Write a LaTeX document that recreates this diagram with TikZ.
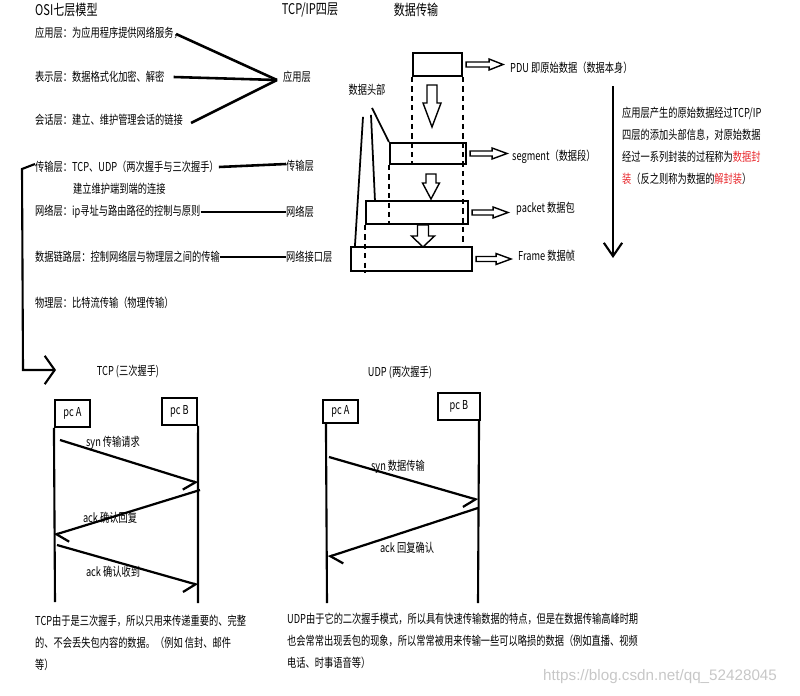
\documentclass[tikz,border=0pt]{standalone}
\usepackage{fontspec}
\setmainfont{Noto Sans CJK SC}[FakeStretch=0.75]
\newfontfamily\wmfont{Liberation Sans}
\usetikzlibrary{arrows.meta,calc}
\definecolor{encred}{RGB}{232,40,45}
\tikzset{
  txt/.style={inner sep=0pt, anchor=west, font=\fontsize{10.5}{12}\selectfont},
  para/.style={inner sep=0pt, anchor=north west, align=left, font=\fontsize{10.5}{18.6}\selectfont},
  head/.style={inner sep=0pt, font=\fontsize{12.6}{14}\selectfont},
  layerline/.style={line width=2.2pt},
  databox/.style={draw, line width=1.8pt, inner sep=0pt},
  pcbox/.style={draw, line width=1.8pt, inner sep=0pt, minimum width=1.05cm, minimum height=0.8cm, font=\fontsize{10.5}{12}\selectfont},
  life/.style={line width=1.8pt},
  msg/.style={line width=1.9pt, -{Straight Barb[harpoon, swap, length=3mm, width=6.5mm]}},
  msgback/.style={line width=1.9pt, -{Straight Barb[harpoon, length=3mm, width=6.5mm]}},
  bigarrow/.style={line width=1.8pt, -{Straight Barb[length=4mm, width=5.5mm]}},
  wideturn/.style={line width=1.8pt, -{Straight Barb[length=3mm, width=8.5mm]}},
  hdrline/.style={line width=1.5pt},
  datadash/.style={line width=1.8pt, dash pattern=on 4.5pt off 3.5pt}
}
\newcommand{\hollowarr}[6]{%
  \begin{scope}[shift={#1},rotate=#2]
    \draw[line width=1.2pt, fill=white] (0,-#5) -- ({#3-#4},-#5) -- ({#3-#4},-#6) -- (#3,0)
      -- ({#3-#4},#6) -- ({#3-#4},#5) -- (0,#5) -- cycle;
  \end{scope}}

\begin{document}
\begin{tikzpicture}[x=0.03cm,y=-0.03cm]
  \useasboundingbox (0,0) rectangle (800,696);

  \node[head, anchor=west] (osi) at (35,10) {OSI七层模型};
  \node[head] (tcpip) at (310,10) {TCP/IP四层};
  \node[head] (datatx) at (416,10) {数据传输};

  \node[txt] (app) at (35,33) {应用层：为应用程序提供网络服务，};
  \node[txt] (pres) at (35,77) {表示层：数据格式化加密、解密};
  \node[txt] (sess) at (35,120) {会话层：建立、维护管理会话的链接};
  \node[txt] (trans) at (35,167) {传输层：TCP、UDP（两次握手与三次握手）};
  \node[txt] (transnote) at (73,189) {建立维护端到端的连接};
  \node[txt] (net) at (35,212) {网络层：ip寻址与路由路径的控制与原则};
  \node[txt] (link) at (35,257) {数据链路层：控制网络层与物理层之间的传输};
  \node[txt] (phys) at (35,303) {物理层：比特流传输（物理传输）};

  \node[txt] (tapp) at (283,77) {应用层};
  \node[txt] (ttrans) at (286,166) {传输层};
  \node[txt] (tnet) at (286,212) {网络层};
  \node[txt] (tlink) at (286,257) {网络接口层};

  \coordinate (meet) at ($(tapp.west)+(-6,3)$);
  \draw[layerline] ($(app.east)+(-7,1)$) -- (meet);
  \draw[layerline] ($(pres.east)+(9,0)$) -- (meet);
  \draw[layerline] ($(sess.east)+(8,3)$) -- (meet);
  \draw[layerline] (trans.east) -- ($(ttrans.west)+(0,-2)$);
  \draw[layerline] (net.east) -- (tnet.west);
  \draw[layerline] (link.east) -- (tlink.west);

  \coordinate (tcpin) at (56,370);
  \draw[wideturn] ($(trans.west)+(0,-3)$) -- (22,169) -- (23,370) -- (tcpin);

  % encapsulation
  \node[databox, minimum width=1.47cm, minimum height=0.69cm] (pdu) at (437.5,64.5) {};
  \node[databox, minimum width=2.28cm, minimum height=0.63cm] (seg) at (428,153.5) {};
  \node[databox, minimum width=3.06cm, minimum height=0.69cm] (pkt) at (417,212.5) {};
  \node[databox, minimum width=3.63cm, minimum height=0.72cm] (frm) at (411.5,259) {};

  \draw[datadash] (pdu.south west) -- (pdu.south west |- seg.south);
  \draw[datadash] (pdu.south east) -- (pdu.south east |- frm.north);
  \draw[datadash] (seg.south west) -- (seg.south west |- pkt.south);
  \draw[datadash] (pkt.south west) -- (pkt.south west |- frm.south);

  \hollowarr{(432,85)}{-90}{42}{24}{5}{9}
  \hollowarr{(431,174)}{-90}{25}{16}{5}{8.5}
  \hollowarr{(423,225)}{-90}{22}{11}{5.5}{11.5}

  \node[txt] (pdulbl) at (510,68) {PDU 即原始数据（数据本身）};
  \node[txt] (seglbl) at (512,157) {segment（数据段）};
  \node[txt] (pktlbl) at (516,209) {packet 数据包};
  \node[txt] (frmlbl) at (518,256) {Frame 数据帧};

  \hollowarr{($(pdu.east)+(3,0)$)}{0}{37}{14}{2.5}{5.5}
  \hollowarr{($(seg.east)+(3,0)$)}{0}{37}{15}{2.5}{5.5}
  \hollowarr{($(pkt.east)+(3,0)$)}{0}{36}{15}{2.5}{5.5}
  \hollowarr{($(frm.east)+(3,0)$)}{0}{35}{15}{2.5}{5.5}

  \node[txt, anchor=center] (hdr) at (367,90) {数据头部};
  \draw[hdrline] ($(hdr.south)+(-4,21)$) -- ($(frm.north west)+(5,0)$);
  \draw[hdrline] ($(hdr.south)+(4,19)$) -- ($(pkt.north west)+(10,0)$);
  \draw[hdrline] ($(hdr.south)+(5,12)$) -- (seg.north west);

  \coordinate (encstart) at (613,86);
  \coordinate (encend) at (613,258);
  \draw[bigarrow] (encstart) -- (encend);
  \node[para] (encnote) at (622,107) {应用层产生的原始数据经过TCP/IP\\
    四层的添加头部信息，对原始数据\\
    经过一系列封装的过程称为\textcolor{encred}{数据封}\\
    \textcolor{encred}{装}（反之则称为数据的\textcolor{encred}{解封装}）};

  % TCP handshake
  \node[txt, anchor=center] (tcptitle) at (128,372) {TCP (三次握手)};
  \node[pcbox] (tA) at (72.5,413.5) {pc A};
  \node[pcbox] (tB) at (179.5,411.5) {pc B};
  \coordinate (tAend) at (55,602);
  \coordinate (tBend) at (198,603);
  \draw[life] (tA.south west) -- (tAend);
  \draw[life] (tB.south east) -- (tBend);
  \coordinate (t1) at (60,440);
  \coordinate (t2) at (198,483);
  \coordinate (t3) at (200,490);
  \coordinate (t4) at (54,535);
  \coordinate (t5) at (57,545);
  \coordinate (t6) at (198,585);
  \draw[msg] (t1) -- (t2);
  \draw[msgback] (t3) -- (t4);
  \draw[msg] (t5) -- (t6);
  \node[txt, anchor=center] (tsyn) at (113,443) {syn 传输请求};
  \node[txt, anchor=center] (tack1) at (110,518) {ack 确认回复};
  \node[txt, anchor=center] (tack2) at (113,572) {ack 确认收到};

  % UDP
  \node[txt, anchor=center] (udptitle) at (400,373) {UDP (两次握手)};
  \node[pcbox, minimum height=0.69cm] (uA) at (340.5,411.5) {pc A};
  \node[pcbox, minimum width=1.26cm] (uB) at (459,406.5) {pc B};
  \coordinate (uAend) at (327,603);
  \coordinate (uBend) at (478,603);
  \draw[life] ($(uA.south west)+(4,0)$) -- (uAend);
  \draw[life] ($(uB.south east)+(-2,0)$) -- (uBend);
  \coordinate (u1) at (329,457);
  \coordinate (u2) at (478,500);
  \coordinate (u3) at (478,508);
  \coordinate (u4) at (328,557);
  \draw[msg] (u1) -- (u2);
  \draw[msgback] (u3) -- (u4);
  \node[txt, anchor=center] (usyn) at (398,467) {syn 数据传输};
  \node[txt, anchor=center] (uack) at (407,548) {ack 回复确认};

  \node[para] (tcpnote) at (35,615) {TCP由于是三次握手，所以只用来传递重要的、完整\\
    的、不会丢失包内容的数据。（例如 信封、邮件\\
    等）};
  \node[para] (udpnote) at (287,613) {UDP由于它的二次握手模式，所以具有快速传输数据的特点，但是在数据传输高峰时期\\
    也会常常出现丢包的现象，所以常常被用来传输一些可以略损的数据（例如直播、视频\\
    电话、时事语音等）};

  \node[inner sep=0pt, anchor=west, text=black!22, font=\wmfont\fontsize{13}{14}\selectfont] (wm) at (543,677) {https://blog.csdn.net/qq\_52428045};
\end{tikzpicture}
\end{document}
